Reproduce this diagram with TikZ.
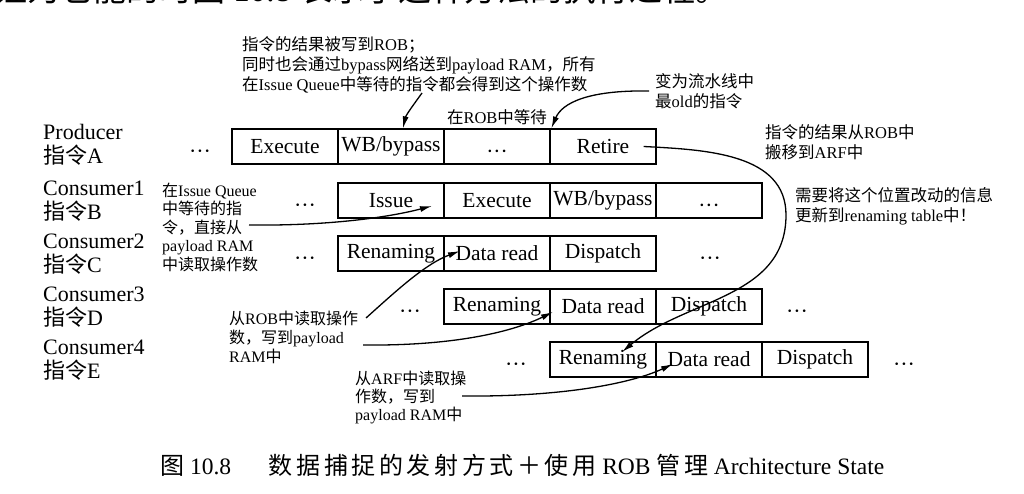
\documentclass[tikz,border=0pt]{standalone}
\usepackage{fontspec}
\setmainfont{Liberation Serif}
\newfontfamily\cjk{Noto Sans CJK SC}
\newfontfamily\cjkcap{Noto Sans CJK SC}[LetterSpace=15]
\usetikzlibrary{arrows.meta}
\newcommand\zh[1]{{\cjk #1}}
\newcommand\mydots{\raisebox{-0.55em}[0pt][0pt]{···}}
\begin{document}
\begin{tikzpicture}[x=1pt,y=-1pt,
  stage/.style={draw, line width=1.3pt, minimum width=106pt, minimum height=35pt, inner sep=0pt, font=\fontsize{21.5}{24}\selectfont},
  lbl/.style={anchor=west, align=left, inner sep=0pt, font=\fontsize{22}{24}\selectfont},
  ann/.style={anchor=west, align=left, inner sep=0pt, font=\fontsize{16.5}{20}\selectfont},
  dotsn/.style={inner sep=0pt, minimum size=20pt, font=\fontsize{22}{24}\selectfont},
  arr/.style={line width=1.3pt, -{Latex[length=12pt,width=6pt]}},
]
\useasboundingbox (0,0) rectangle (1024,494);
\clip (0,0) rectangle (1024,494);
\fill[white] (0,0) rectangle (1024,494);

% cropped line of the page above the figure
\node[anchor=base west, inner sep=0pt, font=\fontsize{33}{36}\selectfont] (topline) at (-6,2)
  {\zh{证为它能的时图} 10.8 \zh{表示了这种方法的执行过程。}};

% row labels
\node[lbl] (LA) at (43,145) {Producer\\\zh{指令}A};
\node[lbl] (LB) at (43,201) {Consumer1\\\zh{指令}B};
\node[lbl] (LC) at (43,254) {Consumer2\\\zh{指令}C};
\node[lbl] (LD) at (43,307) {Consumer3\\\zh{指令}D};
\node[lbl] (LE) at (43,360) {Consumer4\\\zh{指令}E};

% row A
\node[dotsn] (dA0) at (200,146.5) {\mydots};
\node[stage] (A1) at (285,146.5) {Execute};
\node[stage] (A2) at (391,146.5) {WB/bypass};
\node[stage] (A3) at (497,146.5) {\mydots};
\node[stage] (A4) at (603,146.5) {Retire};
% row B
\node[dotsn] (dB0) at (305,200.5) {\mydots};
\node[stage] (B1) at (391,200.5) {Issue};
\node[stage] (B2) at (497,200.5) {Execute};
\node[stage] (B3) at (603,200.5) {WB/bypass};
\node[stage] (B4) at (709,200.5) {\mydots};
% row C
\node[dotsn] (dC0) at (305,253.5) {\mydots};
\node[stage] (C1) at (391,253.5) {Renaming};
\node[stage] (C2) at (497,253.5) {Data read};
\node[stage] (C3) at (603,253.5) {Dispatch};
\node[dotsn] (dC1) at (710,253.5) {\mydots};
% row D
\node[dotsn] (dD0) at (410,306.5) {\mydots};
\node[stage] (D1) at (497,306.5) {Renaming};
\node[stage] (D2) at (603,306.5) {Data read};
\node[stage] (D3) at (709,306.5) {Dispatch};
\node[dotsn] (dD1) at (797,306.5) {\mydots};
% row E
\node[dotsn] (dE0) at (516,359.5) {\mydots};
\node[stage] (E1) at (603,359.5) {Renaming};
\node[stage] (E2) at (709,359.5) {Data read};
\node[stage] (E3) at (815,359.5) {Dispatch};
\node[dotsn] (dE1) at (904,359.5) {\mydots};

% annotations
\node[ann] (n1) at (242,65) {\zh{指令的结果被写到}ROB\zh{；}\\\zh{同时也会通过}bypass\zh{网络送到}payload RAM\zh{，所有}\\\zh{在}Issue Queue\zh{中等待的指令都会得到这个操作数}};
\node[ann, anchor=center] (n2) at (497,117) {\zh{在}ROB\zh{中等待}};
\node[ann] (n3) at (655,91) {\zh{变为流水线中}\\\zh{最}old\zh{的指令}};
\node[ann] (n4) at (765,142) {\zh{指令的结果从}ROB\zh{中}\\\zh{搬移到}ARF\zh{中}};
\node[ann] (n5) at (795,206) {\zh{需要将这个位置改动的信息}\\\zh{更新到}renaming table\zh{中！}};
\node[ann, font=\fontsize{16}{18.5}\selectfont] (n6) at (162,227) {\zh{在}Issue Queue\\\zh{中等待的指}\\\zh{令，直接从}\\payload RAM\\\zh{中读取操作数}};
\node[ann, font=\fontsize{16}{19}\selectfont] (n7) at (229,337) {\zh{从}ROB\zh{中读取操作}\\\zh{数，写到}payload\\RAM\zh{中}};
\node[ann, font=\fontsize{16}{18}\selectfont] (n8) at (355,398) {\zh{从}ARF\zh{中读取操}\\\zh{作数，写到}\\payload RAM\zh{中}};

% caption
\node[anchor=west, inner sep=0pt, font=\fontsize{23.5}{26}\selectfont] (cap) at (160,465)
  {{\cjkcap\fontsize{24}{26}\selectfont 图} 10.8\hspace{1.6em}{\cjkcap\fontsize{24}{26}\selectfont 数据捕捉的发射方式＋使用} ROB {\cjkcap\fontsize{24}{26}\selectfont 管理} Architecture State};

% connector end points
\coordinate (s1) at (422,93);
\coordinate (bigR) at (786,215);
\coordinate (bigEnd) at (622,352);
\coordinate (s4) at (249,225);
\coordinate (t4) at (432,206);
\coordinate (s5) at (366,318);
\coordinate (t5) at (460,251);
\coordinate (s6) at (363,345);
\coordinate (t6) at (553,312);
\coordinate (s7) at (462,396);
\coordinate (t7) at (673,364);

% connectors
\draw[arr] (s1) .. controls (414,104) and (406,115) .. ([xshift=12pt]A2.north);
\draw[arr] ([xshift=-6pt]n3.west) .. controls (588,90) and (562,103) .. ([xshift=2pt]A4.north west);
\draw[arr] ([xshift=-13pt]A4.east) to[out=-3,in=90] (bigR) to[out=-90,in=40] (bigEnd);
\draw[arr] (s4) .. controls (330,226) and (390,217) .. (t4);
\draw[arr] (s5) .. controls (395,292) and (425,264) .. (t5);
\draw[arr] (s6) .. controls (450,346) and (510,333) .. (t6);
\draw[arr] (s7) .. controls (560,397) and (630,384) .. (t7);
\end{tikzpicture}
\end{document}
